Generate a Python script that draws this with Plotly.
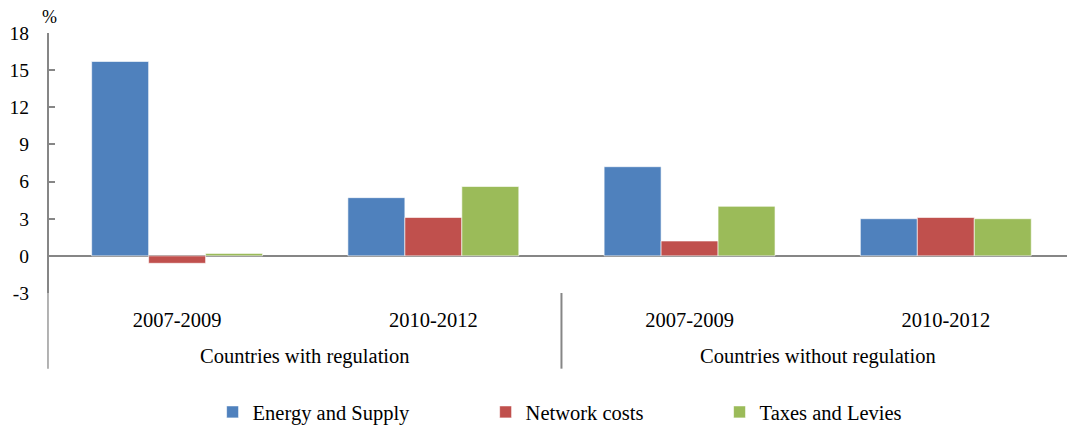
import plotly.graph_objects as go

# Price component changes (%) by regulation status and period
groups = ["Countries with regulation", "Countries without regulation"]
periods = ["2007-2009", "2010-2012", "2007-2009", "2010-2012"]
energy_supply = [15.7, 4.7, 7.2, 3.0]
network_costs = [-0.6, 3.1, 1.2, 3.1]
taxes_levies = [0.2, 5.6, 4.0, 3.0]

series_names = ["Energy and Supply", "Network costs", "Taxes and Levies"]
series_values = [energy_supply, network_costs, taxes_levies]
series_colors = ["#4F81BD", "#C0504D", "#9BBB59"]

y_ticks = [-3, 0, 3, 6, 9, 12, 15, 18]
y_tick_text = ["-3", "0", "3", "6", "9", "12", "15", "18"]

FONT = "Liberation Serif, Times New Roman, serif"
GRID_GRAY = "#868686"

x_pos = list(range(len(periods)))

fig = go.Figure()
legend_ids = ["legend", "legend2", "legend3"]
for name, vals, color, lg in zip(series_names, series_values, series_colors, legend_ids):
    fig.add_trace(go.Bar(
        x=x_pos, y=vals, name=name, legend=lg,
        marker=dict(color=color, line=dict(color="rgba(255,255,255,0.6)", width=1)),
    ))

fig.update_layout(
    width=1067, height=428,
    margin=dict(l=49, r=0, t=33, b=135, autoexpand=False),
    paper_bgcolor="white", plot_bgcolor="white",
    barmode="group", bargap=0.333, bargroupgap=0,
    font=dict(family=FONT, size=20, color="black"),
    showlegend=True,
)

# one legend per series, laid out along the bottom
legend_x = [0.1607, 0.4289, 0.6587]
for lg, lx in zip(legend_ids, legend_x):
    fig.update_layout({lg: dict(
        x=lx, y=-0.458, xref="paper", yref="paper",
        xanchor="left", yanchor="middle",
        orientation="h", bgcolor="rgba(0,0,0,0)",
        font=dict(family=FONT, size=20.5, color="black"),
        itemwidth=30, tracegroupgap=0,
    )})

fig.update_xaxes(
    range=[-0.5, 3.473],
    tickmode="array", tickvals=x_pos, ticktext=periods,
    ticks="", showline=False, showgrid=False, zeroline=False,
    tickfont=dict(family=FONT, size=20.5, color="black"),
    ticklabelstandoff=12,
)
fig.update_yaxes(
    range=[-3, 18],
    tickmode="array", tickvals=y_ticks, ticktext=y_tick_text,
    showgrid=False,
    showline=True, linecolor=GRID_GRAY, linewidth=2,
    ticks="inside", ticklen=6, tickwidth=1.5, tickcolor=GRID_GRAY,
    zeroline=True, zerolinecolor=GRID_GRAY, zerolinewidth=2,
    tickfont=dict(family=FONT, size=19.5, color="black"),
    ticklabelstandoff=14,
)

# group dividers below the plot area
div_bottom = -0.291
fig.add_shape(type="line", xref="paper", yref="paper", x0=-0.001, x1=-0.001,
              y0=0, y1=div_bottom, line=dict(color="#9a9a9a", width=1.5))
fig.add_shape(type="line", xref="x", yref="paper", x0=1.5, x1=1.5,
              y0=0, y1=div_bottom, line=dict(color=GRID_GRAY, width=2))

# group labels
for i, g in enumerate(groups):
    fig.add_annotation(x=2 * i + 0.5, xref="x", y=-0.246, yref="paper",
                       text=g, showarrow=False, yanchor="middle",
                       font=dict(family=FONT, size=20.5, color="black"))

# unit label
fig.add_annotation(x=0.0, xref="paper", y=1.06, yref="paper", text="%",
                   showarrow=False, xanchor="center", yanchor="middle",
                   font=dict(family=FONT, size=18, color="black"))

fig.write_html("out.html")
